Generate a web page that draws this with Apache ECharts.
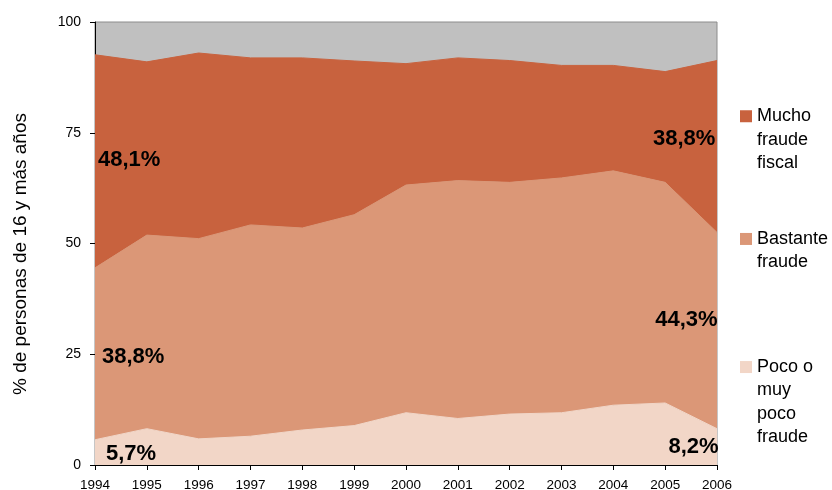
<!DOCTYPE html>
<html>
<head>
<meta charset="utf-8">
<script src="https://cdn.jsdelivr.net/npm/echarts@6/dist/echarts.min.js"></script>
<style>
html,body{margin:0;padding:0;background:#fff;}
#c{width:832px;height:490px;}
</style>
</head>
<body>
<div id="c"></div>
<script>
const years = ['1994','1995','1996','1997','1998','1999','2000','2001','2002','2003','2004','2005','2006'];
const yTicks = [0, 25, 50, 75, 100];
const poco     = [5.7, 8.2, 5.9, 6.5, 7.9, 8.9, 11.8, 10.5, 11.5, 11.8, 13.5, 14.0, 8.2];
const bastante = [38.8, 43.7, 45.2, 47.7, 45.6, 47.6, 51.4, 53.7, 52.3, 53.0, 52.9, 49.8, 44.3];
const mucho    = [48.1, 39.1, 41.9, 37.7, 38.4, 34.7, 27.4, 27.7, 27.5, 25.4, 23.8, 25.0, 38.8];
const names = ['Mucho\nfraude\nfiscal', 'Bastante\nfraude', 'Poco o\nmuy\npoco\nfraude'];

const FONT = '"Liberation Sans", Arial, sans-serif';
const fmt = v => v.toFixed(1).replace('.', ',') + '%';

const base0 = poco.map(() => 0);
const base1 = poco.slice();
const base2 = poco.map((v, i) => v + bastante[i]);
const last = years.length - 1;

function marks(vals, base, left, right) {
  return {
    symbol: 'circle', symbolSize: 0, silent: true, animation: false,
    label: {
      show: true, formatter: p => fmt(p.value), fontFamily: FONT,
      fontSize: 22, fontWeight: 'bold', color: '#000', verticalAlign: 'middle'
    },
    data: [
      { coord: [0, base[0] + vals[0] / 2], value: vals[0], label: { position: left, align: 'left' } },
      { coord: [last, base[last] + vals[last] / 2], value: vals[last], label: { position: right, align: 'right' } }
    ]
  };
}

function areaSeries(name, vals, color, mp) {
  return {
    name: name, type: 'line', stack: 'total', data: vals,
    symbol: 'none', showSymbol: false, smooth: false,
    lineStyle: { width: 1, color: color },
    itemStyle: { color: color },
    areaStyle: { color: color, opacity: 1 },
    markPoint: mp,
    animation: false
  };
}

const colors = ['#C8623E', '#DB9777', '#F2D6C7'];

function legend(name, top, n) {
  const lh = 23.3;
  return {
    data: [name], left: 740, top: top, orient: 'vertical', padding: 0,
    itemWidth: 12, itemHeight: 12, icon: 'rect', selectedMode: false,
    formatter: nm => '\n'.repeat(n - 1) + nm,
    textStyle: { fontFamily: FONT, fontSize: 18, color: '#000', lineHeight: lh }
  };
}

const chart = echarts.init(document.getElementById('c'), null, { renderer: 'canvas' });
chart.setOption({
  backgroundColor: '#fff',
  animation: false,
  grid: {
    left: 95, right: 115, top: 22, height: 443,
    outerBoundsMode: 'none', containLabel: false,
    show: true, backgroundColor: '#C0C0C0', borderColor: '#8C8C8C', borderWidth: 1
  },
  legend: [
    legend(names[0], 58, 3),
    legend(names[1], 204, 2),
    legend(names[2], 285.5, 4)
  ],
  xAxis: {
    type: 'category', data: years, boundaryGap: false,
    axisLine: { lineStyle: { color: '#000', width: 1 } },
    axisTick: { show: true, length: 5, lineStyle: { color: '#000' } },
    axisLabel: { interval: 0, margin: 13, fontFamily: FONT, fontSize: 13.5, color: '#000' },
    splitLine: { show: false }
  },
  yAxis: {
    type: 'value', min: yTicks[0], max: yTicks[yTicks.length - 1], interval: 25,
    name: '% de personas de 16 y más años', nameLocation: 'middle', nameGap: 65,
    nameTextStyle: { fontFamily: FONT, fontSize: 19, color: '#000', padding: [0, 21, 0, 0] },
    axisLine: { show: true, lineStyle: { color: '#000', width: 1 } },
    axisTick: { show: true, length: 5, lineStyle: { color: '#000' } },
    axisLabel: { margin: 14, fontFamily: FONT, fontSize: 14, color: '#000' },
    splitLine: { show: false }
  },
  series: [
    areaSeries(names[2], poco, colors[2], marks(poco, base0, [11, 1.5], [1.6, 0])),
    areaSeries(names[1], bastante, colors[1], marks(bastante, base1, [7, 3.5], [0.6, -11])),
    areaSeries(names[0], mucho, colors[0], marks(mucho, base2, [3, -1.5], [-1.7, -7.5]))
  ]
});
</script>
</body>
</html>
